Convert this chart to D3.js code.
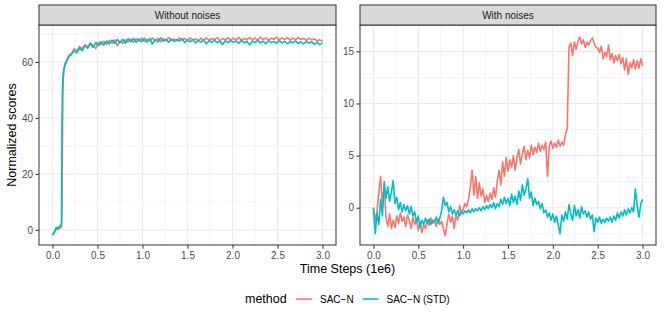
<!DOCTYPE html>
<html>
<head>
<meta charset="utf-8">
<script src="https://cdn.jsdelivr.net/npm/d3@7"></script>
<style>
    body { margin: 0; background: #ffffff; }
    text { font-family: "Liberation Sans", Arial, Helvetica, sans-serif; }
</style>
</head>
<body>
<div id="chart"></div>
<script>

//- Prepare Globals
const CHARTDIVNAME = "#chart";

const SVG_WIDTH = 664;
const SVG_HEIGHT = 315;

const METHODS = ["SAC\u2212N", "SAC\u2212N (STD)"];
const METHOD_COLORS = ["#F8766D", "#00BFC4"];
const PANEL_TITLES = ["Without noises", "With noises"];

const X_TICKS = [0, 0.5, 1.0, 1.5, 2.0, 2.5, 3.0];
const X_MINOR_TICKS = [0.25, 0.75, 1.25, 1.75, 2.25, 2.75];
const LEFT_Y_TICKS = [0, 20, 40, 60];
const LEFT_Y_MINOR_TICKS = [10, 30, 50, 70];
const RIGHT_Y_TICKS = [0, 5, 10, 15];
const RIGHT_Y_MINOR_TICKS = [-2.5, 2.5, 7.5, 12.5, 17.5];

//- Time steps (1e6); the left panel has a finer start to show the jump
const LEFT_EARLY_STEPS = [0, 0.01, 0.02, 0.03, 0.04, 0.05, 0.06, 0.07, 0.08, 0.09, 0.10, 0.105, 0.11, 0.115, 0.12, 0.13, 0.14];
const leftSteps = LEFT_EARLY_STEPS.concat(d3.range(0.15, 3.001, 0.03));
const rightSteps = d3.range(0, 3.001, 0.02);

//- Without noises: SAC-N
const leftSacN = [
    -2.0, -1.6, -1.0, -0.6, 0.2, 0.6, 0.3, 0.9, 0.5, 1.0, 1.0, 8.0, 30.0, 48.0, 54.0, 57.5, 59.0,
    60.2, 62.3, 63.0, 64.8, 63.9, 65.6, 64.7, 66.2, 65.4, 66.8, 65.9, 64.8, 67.0, 66.2, 67.4, 66.3,
    67.6, 66.7, 67.9, 65.8, 67.4, 66.6, 68.0, 67.1, 68.2, 67.0, 68.3, 67.4, 68.5, 67.3, 68.1, 67.5,
    68.6, 67.6, 68.4, 67.2, 68.3, 67.6, 68.7, 67.7, 68.2, 67.5, 68.5, 67.8, 68.4, 67.6, 68.6, 67.9,
    68.3, 67.5, 68.5, 67.8, 68.6, 67.7, 68.4, 68.0, 68.7, 67.6, 68.3, 67.9, 68.6, 67.8, 68.5, 67.9,
    68.8, 67.7, 68.4, 68.0, 68.7, 67.9, 68.5, 67.8, 68.9, 68.0, 68.6, 67.8, 68.5, 68.1, 68.9, 67.9,
    68.6, 68.0, 68.7, 67.8, 68.5, 67.9, 68.8, 68.0, 68.4, 67.7, 68.5, 67.9, 68.2, 67.5, 67.9, 67.3
];

//- Without noises: SAC-N (STD)
const leftSacNStd = [
    -1.8, -1.2, -0.8, 0.0, 0.8, 0.3, 1.0, 0.4, 1.2, 1.8, 2.0, 35.0, 50.0, 54.0, 56.0, 58.0, 59.5,
    59.6, 61.8, 62.6, 64.0, 63.2, 65.1, 64.0, 65.8, 64.9, 66.5, 65.2, 66.9, 65.8, 67.2, 66.0, 67.5,
    66.4, 67.8, 66.6, 68.0, 66.9, 68.1, 66.7, 68.3, 67.2, 68.4, 67.0, 68.2, 67.3, 68.5, 67.1, 68.3,
    66.4, 68.0, 67.2, 68.6, 67.4, 68.1, 67.0, 68.2, 67.3, 68.0, 67.5, 68.3, 66.9, 67.9, 67.2, 68.0,
    66.8, 67.7, 67.1, 67.9, 66.5, 67.6, 67.0, 67.8, 66.9, 67.5, 66.2, 67.6, 66.9, 67.7, 67.0, 67.5,
    66.6, 67.8, 66.8, 67.4, 66.0, 67.5, 66.9, 67.7, 66.8, 67.4, 66.5, 67.6, 66.9, 67.3, 66.7, 67.6,
    66.8, 67.4, 66.5, 67.3, 66.8, 67.5, 66.6, 67.2, 66.4, 67.3, 66.7, 67.2, 66.3, 67.0, 66.2, 66.8
];

//- With noises: SAC-N
const rightSacN = [
    0.0, -1.2, -0.3, 1.5, 3.0, 0.2, 2.2, -1.0, -1.8, -0.6, -2.0, -1.2, -1.9, -0.8, -1.5, -0.5,
    -1.3, -0.9, -1.8, -0.7, -1.2, -2.0, -0.9, -1.6, -1.1, -2.2, -1.4, -2.4, -1.6, -2.0, -1.2, -1.7,
    -1.0, -1.5, -1.2, -1.8, -1.1, -1.6, -1.3, -2.0, -2.7, -1.5, -0.6, -1.4, -0.8, -2.0, -0.7, -1.2,
    0.2, -0.5, -0.2, 0.4, 0.1, 0.8, 2.0, 3.6, 1.2, 3.0, 0.9, 2.4, 1.1, 1.8, 0.5, 1.2, 0.6, 1.4,
    0.8, 1.9, 1.0, 2.5, 3.6, 2.2, 4.4, 3.0, 4.8, 3.5, 4.6, 3.9, 5.0, 3.6, 4.8, 5.6, 4.2, 5.2,
    5.9, 4.6, 5.5, 4.8, 6.0, 5.1, 5.8, 5.3, 6.2, 5.4, 6.0, 5.6, 6.3, 3.0, 5.9, 6.4, 5.7, 6.2,
    5.8, 6.5, 5.9, 6.3, 6.0, 7.0, 7.6, 15.4, 15.8, 14.6, 15.9, 15.2, 16.0, 16.4, 15.7, 16.1,
    15.4, 15.9, 15.6, 16.0, 16.3, 15.8, 15.4, 15.3, 14.9, 15.5, 14.3, 14.9, 14.5, 15.6, 14.2, 14.8,
    13.9, 14.6, 14.1, 14.7, 13.8, 14.4, 13.2, 14.3, 12.8, 13.9, 13.4, 14.2, 13.3, 14.1, 13.4, 14.3,
    13.6
];

//- With noises: SAC-N (STD)
const rightSacNStd = [
    0.0, -2.5, -0.5, -1.6, 0.8, -0.8, 2.5, 0.9, 2.0, 0.6, 1.5, 2.6, 0.4, 1.0, -0.2, 0.5,
    -0.4, 0.3, -0.3, 0.2, -0.6, 0.1, -0.8, -0.4, -1.4, -0.8, -1.9, -1.2, -1.6, -1.0, -1.5, -1.1,
    -1.6, -1.2, -1.4, -0.9, -1.5, -1.0, -0.3, 1.0, 0.2, 0.5, -0.4, 0.1, -0.6, -0.2, -0.7, -0.3,
    -0.8, -0.4, -0.6, -0.3, -0.5, -0.2, -0.5, -0.1, -0.4, -0.1, -0.3, 0.0, -0.3, 0.1, -0.2, 0.2,
    -0.1, 0.3, 0.0, 0.5, -0.1, 0.4, 0.1, 0.8, 0.3, 1.0, 0.4, 0.9, 0.2, 1.3, 0.5, 1.1, 0.3, 1.6,
    0.7, 2.2, 1.2, 1.8, 2.8, 0.9, 1.5, 0.2, 0.9, 0.3, 0.6, -0.1, 0.4, -0.5, -0.2, -0.9, -0.5, -1.2,
    -0.6, -1.4, -0.8, -1.6, -2.5, -0.7, -1.3, -0.4, -1.1, 0.3, -0.6, -1.2, 0.2, -0.8, -0.2, -1.0,
    0.1, -0.6, -0.3, -0.9, -0.4, -1.1, -0.7, -2.3, -1.0, -1.4, -0.9, -1.5, -1.1, -1.4, -1.0, -1.3,
    -0.9, -1.4, -0.8, -1.2, -0.5, -1.0, -0.4, -0.8, -0.2, -0.7, -0.1, -0.5, 0.0, -0.4, 1.8, 0.2,
    -0.9, 0.3, 0.8
];

const _panelTop = 25;        // top of both plot panels; strips sit above
const _panelBottom = 245;
const _stripHeight = 20;
const LINE_WIDTH = 1.6;

const _panels = [
    {
        title: PANEL_TITLES[0],
        left: 39, right: 336,
        yDomain: [-5.4, 73.2],
        yTicks: LEFT_Y_TICKS,
        yMinor: LEFT_Y_MINOR_TICKS,
        steps: leftSteps,
        series: [leftSacN, leftSacNStd]
    },
    {
        title: PANEL_TITLES[1],
        left: 360, right: 656,
        yDomain: [-3.58, 17.53],
        yTicks: RIGHT_Y_TICKS,
        yMinor: RIGHT_Y_MINOR_TICKS,
        steps: rightSteps,
        series: [rightSacN, rightSacNStd]
    }
];


function drawPanel(svg, panel){
    /* Draws one facet: strip, grid, lines, border and axes.

    Accepts : svg (d3 selection) root svg; panel (object) facet settings

    Returns : undefined
    */

    let width = panel.right - panel.left;
    let height = _panelBottom - _panelTop;

    let xScale = d3.scaleLinear().domain([-0.15, 3.15]).range([0, width]);
    let yScale = d3.scaleLinear().domain(panel.yDomain).range([height, 0]);

    let g = svg.append("g")
        .attr("transform", `translate(${panel.left}, ${_panelTop})`);

    //- Grid: minor first, major on top
    g.append("g").selectAll("line")
        .data(X_MINOR_TICKS)
        .enter().append("line")
        .attr("x1", d => xScale(d)).attr("x2", d => xScale(d))
        .attr("y1", 0).attr("y2", height)
        .attr("stroke", "#EBEBEB").attr("stroke-width", 0.6);

    g.append("g").selectAll("line")
        .data(panel.yMinor.filter(d => yScale(d) >= 0 && yScale(d) <= height))
        .enter().append("line")
        .attr("x1", 0).attr("x2", width)
        .attr("y1", d => yScale(d)).attr("y2", d => yScale(d))
        .attr("stroke", "#EBEBEB").attr("stroke-width", 0.6);

    g.append("g").selectAll("line")
        .data(X_TICKS)
        .enter().append("line")
        .attr("x1", d => xScale(d)).attr("x2", d => xScale(d))
        .attr("y1", 0).attr("y2", height)
        .attr("stroke", "#EBEBEB").attr("stroke-width", 1.1);

    g.append("g").selectAll("line")
        .data(panel.yTicks)
        .enter().append("line")
        .attr("x1", 0).attr("x2", width)
        .attr("y1", d => yScale(d)).attr("y2", d => yScale(d))
        .attr("stroke", "#EBEBEB").attr("stroke-width", 1.1);

    //- Lines; SAC-N first, STD drawn over it
    let lineGen = d3.line()
        .x(d => xScale(d[0]))
        .y(d => yScale(d[1]));

    panel.series.forEach((values, i) => {
        let points = values.map((v, j) => [panel.steps[j], v]);
        g.append("path")
            .datum(points)
            .attr("fill", "none")
            .attr("stroke", METHOD_COLORS[i])
            .attr("stroke-width", LINE_WIDTH)
            .attr("stroke-linejoin", "round")
            .attr("d", lineGen);
    });

    //- Border
    g.append("rect")
        .attr("x", 0).attr("y", 0)
        .attr("width", width).attr("height", height)
        .attr("fill", "none")
        .attr("stroke", "#333333")
        .attr("stroke-width", 1);

    //- Strip
    g.append("rect")
        .attr("x", 0).attr("y", -_stripHeight)
        .attr("width", width).attr("height", _stripHeight)
        .attr("fill", "#D9D9D9")
        .attr("stroke", "#333333")
        .attr("stroke-width", 1);

    g.append("text")
        .attr("x", width / 2)
        .attr("y", -_stripHeight / 2)
        .attr("dy", "0.35em")
        .attr("text-anchor", "middle")
        .attr("font-size", "10px")
        .attr("fill", "#1A1A1A")
        .text(panel.title);

    //- Axes
    let xAxis = d3.axisBottom(xScale)
        .tickValues(X_TICKS)
        .tickFormat(d3.format(".1f"))
        .tickSize(3.7)
        .tickPadding(3.5);

    let yAxis = d3.axisLeft(yScale)
        .tickValues(panel.yTicks)
        .tickFormat(d3.format("d"))
        .tickSize(3.7)
        .tickPadding(2.2);

    let xg = g.append("g")
        .attr("transform", `translate(0, ${height})`)
        .call(xAxis);

    let yg = g.append("g").call(yAxis);

    [xg, yg].forEach(ax => {
        ax.select(".domain").remove();
        ax.selectAll(".tick line").attr("stroke", "#333333");
        ax.selectAll(".tick text")
            .attr("fill", "#4D4D4D")
            .attr("font-size", "10px")
            .attr("font-family", "\"Liberation Sans\", Arial, sans-serif");
    });
}


function createChart(){
    /* Builds the two-facet chart with shared axis titles and legend

    Accepts : nothing

    Returns : undefined
    */

    let svg = d3.select(CHARTDIVNAME).append("svg")
        .attr("width", SVG_WIDTH)
        .attr("height", SVG_HEIGHT);

    svg.append("rect")
        .attr("width", SVG_WIDTH).attr("height", SVG_HEIGHT)
        .attr("fill", "#ffffff");

    _panels.forEach(p => drawPanel(svg, p));

    //-- Axis Titles
    svg.append("text")
        .attr("x", (39 + 656) / 2)
        .attr("y", 273)
        .attr("text-anchor", "middle")
        .attr("font-size", "12.5px")
        .attr("fill", "#000000")
        .text("Time Steps (1e6)");

    svg.append("text")
        .attr("transform", `translate(16, ${(_panelTop + _panelBottom) / 2}) rotate(-90)`)
        .attr("text-anchor", "middle")
        .attr("font-size", "12.5px")
        .attr("fill", "#000000")
        .text("Normalized scores");

    //-- Legend
    let legend = svg.append("g");

    legend.append("text")
        .attr("x", 245)
        .attr("y", 303)
        .attr("font-size", "12.5px")
        .attr("fill", "#000000")
        .text("method");

    let keyX = [296, 362.5];

    METHODS.forEach((m, i) => {
        legend.append("line")
            .attr("x1", keyX[i]).attr("x2", keyX[i] + 16)
            .attr("y1", 299).attr("y2", 299)
            .attr("stroke", METHOD_COLORS[i])
            .attr("stroke-width", LINE_WIDTH);

        legend.append("text")
            .attr("x", keyX[i] + 24)
            .attr("y", 302.5)
            .attr("font-size", "10px")
            .attr("fill", "#000000")
            .text(m);
    });
}


createChart();

</script>
</body>
</html>
